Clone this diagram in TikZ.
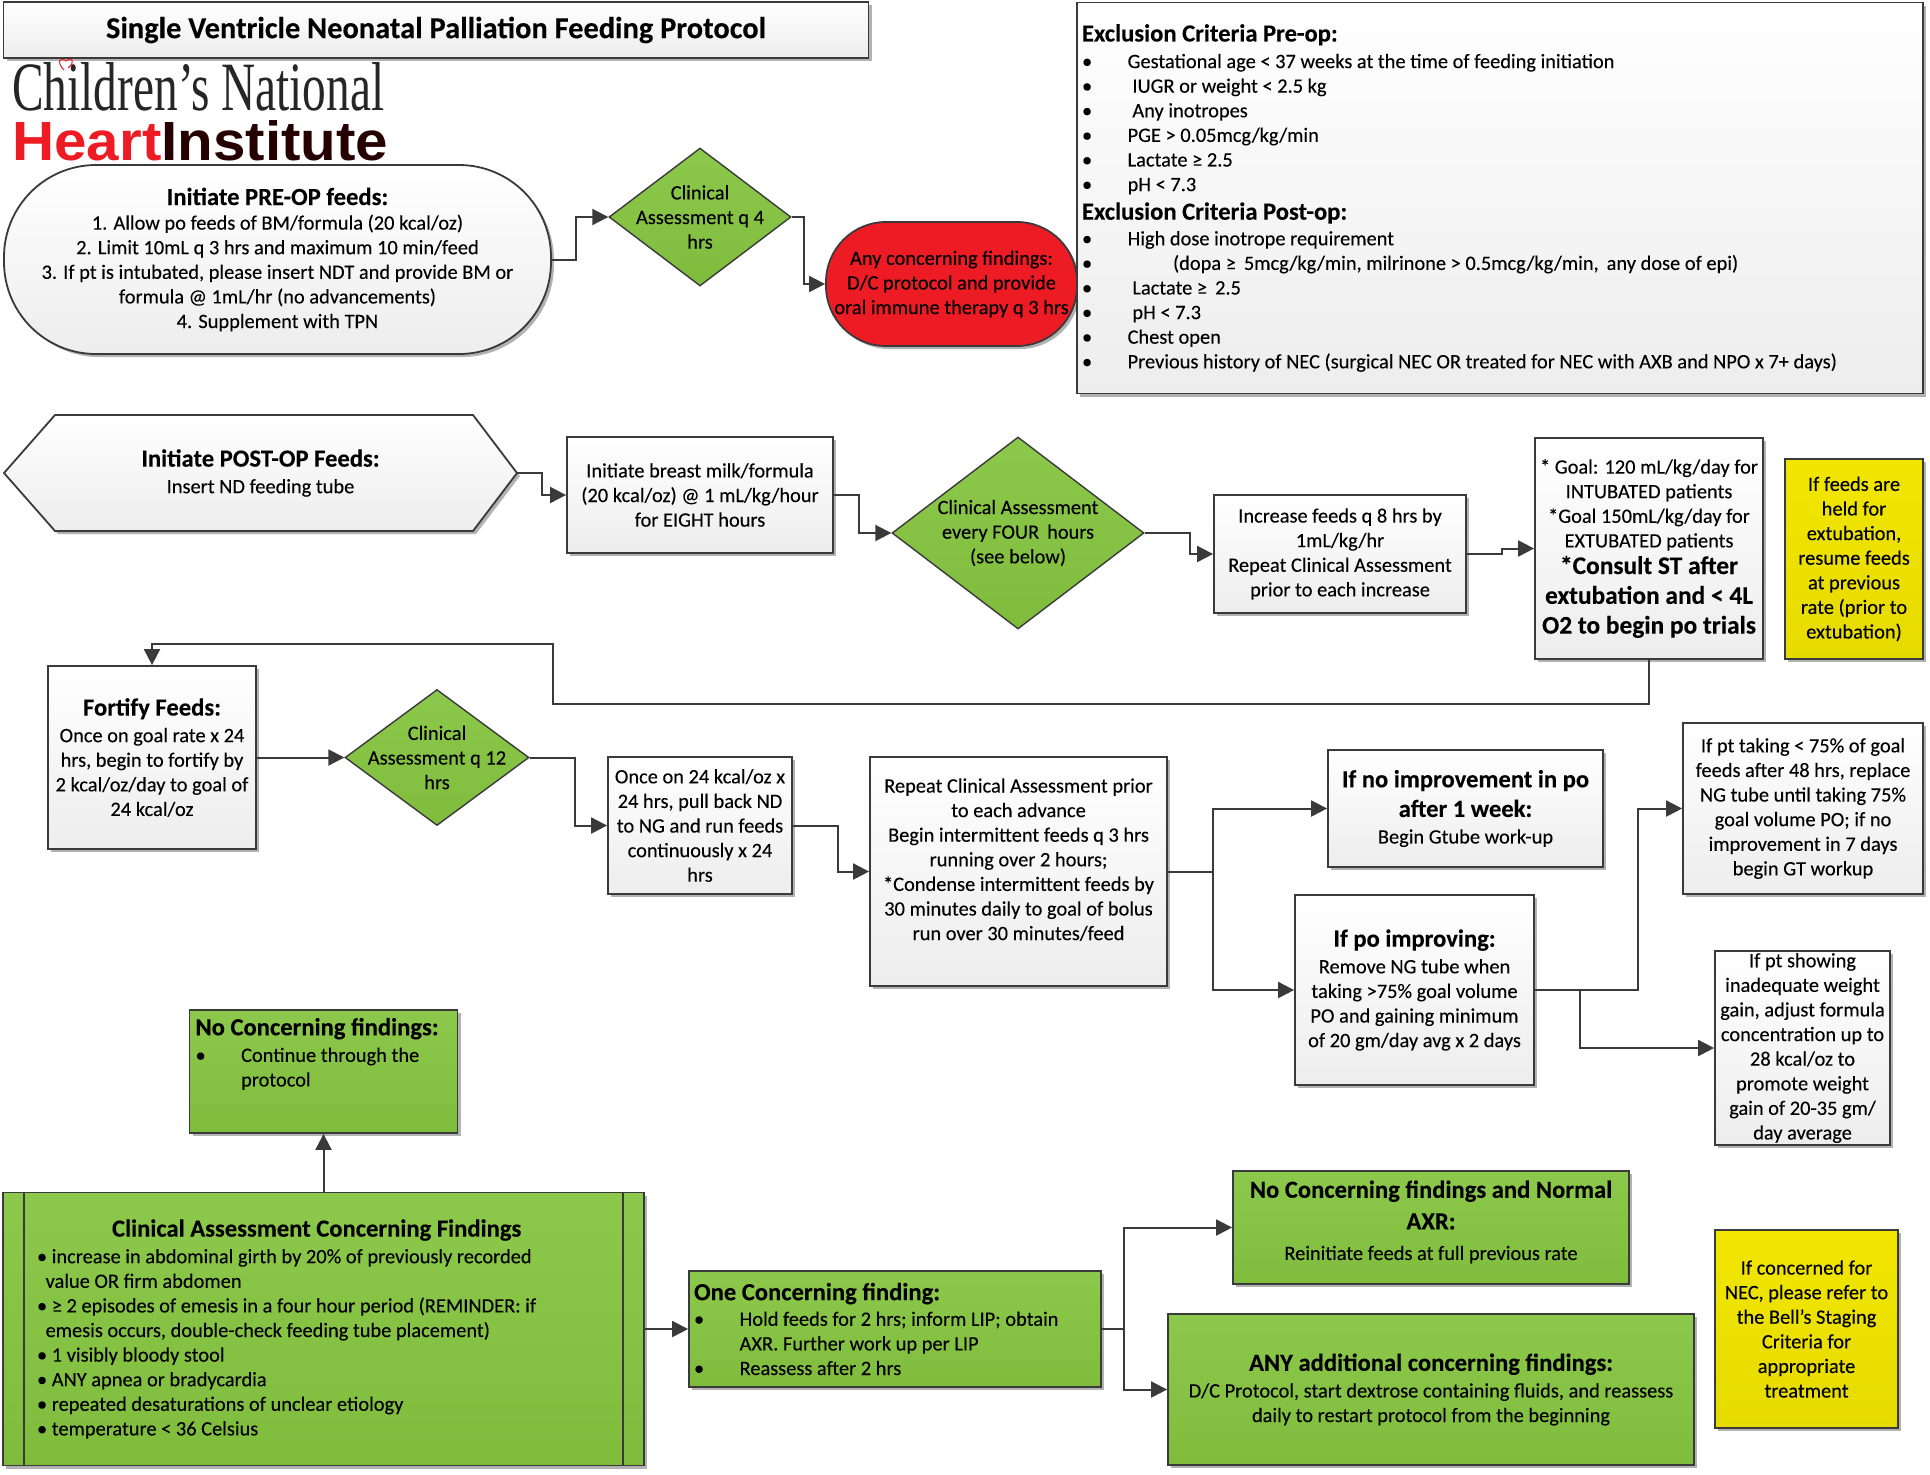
\documentclass[tikz,border=0pt]{standalone}
\usepackage{fontspec}
\setmainfont{Carlito}[FakeBold=0.15]
\newfontfamily\logoserif{Liberation Serif}
\newfontfamily\logosans{Liberation Sans}
\usetikzlibrary{arrows.meta,shapes.geometric,shadows}
\definecolor{linegray}{HTML}{3A3A3A}
\definecolor{boxgray}{HTML}{EDEDED}
\definecolor{greenlight}{HTML}{8CC84B}
\definecolor{greendark}{HTML}{80BC3C}
\definecolor{alertred}{HTML}{ED1C24}
\definecolor{noteyellow}{HTML}{F2E600}
\newcommand{\bodyfont}{\fontsize{10.2}{12.3}\selectfont}
\newcommand{\hdtext}[1]{{\fontsize{12.3}{12.3}\bfseries\selectfont #1}}
\newcommand{\bigtext}[1]{{\fontsize{12.7}{15}\bfseries\selectfont #1}}
\newcommand{\bulitem}[2][22.8pt]{\makebox[#1][l]{\textbullet}#2}
\tikzset{
	boxshadow/.style={drop shadow={shadow xshift=1.5pt,shadow yshift=-1.5pt,opacity=.3,fill=black}},
	flowbox/.style={draw=linegray,line width=.9pt,top color=white,bottom color=boxgray,boxshadow,align=center,inner sep=0pt,font=\bodyfont},
	greenbox/.style={flowbox,top color=greenlight,bottom color=greendark},
	notebox/.style={flowbox,top color=noteyellow,bottom color=noteyellow!95!black},
	decision/.style={diamond,draw=linegray,line width=.7pt,top color=greenlight,bottom color=greendark,inner sep=0pt},
	decisiontext/.style={align=center,inner sep=0pt,font=\bodyfont},
	arr/.style={draw=linegray,line width=1pt,-{Triangle[length=8pt,width=8pt]}}
}
\begin{document}
\begin{tikzpicture}[x=.5pt,y=-.5pt]
	\useasboundingbox (0,0) rectangle (1930,1474);
	% header and logo
	\node[flowbox,minimum width=432.5pt,minimum height=28pt] (title) at (436,30) {\fontsize{15.2}{16}\bfseries\selectfont Single Ventricle Neonatal Palliation Feeding Protocol};
	\node[inner sep=0pt,anchor=south west] (logotop) at (12,112) {\resizebox{186pt}{24pt}{\logoserif\fontsize{30}{30}\selectfont\color{black!85}Children’s National}};
	\node[inner sep=0pt,anchor=north west] (logobot) at (12,120) {\resizebox{188pt}{20pt}{\logosans\bfseries{\color{alertred}Heart}{\color{black!85!red}Institute}}};
	\draw[alertred,line width=.5pt] (64,70) .. controls (56,62) and (60,56) .. (66,61) .. controls (72,56) and (76,62) .. (68,68);

	% pre-op row
	\node[flowbox,minimum width=273.5pt,minimum height=94.5pt,rounded corners=46pt] (preop) at (277.5,259.5) {\hdtext{Initiate PRE-OP feeds:}\\
		1. Allow po feeds of BM/formula (20 kcal/oz)\\
		2. Limit 10mL q 3 hrs and maximum 10 min/feed\\
		3. If pt is intubated, please insert NDT and provide BM or\\
		formula @ 1mL/hr (no advancements)\\
		4. Supplement with TPN};
	\node[decision,minimum width=91pt,minimum height=69pt] (dia1) at (700,217) {};
	\node[decisiontext] (dia1txt) at (dia1) {Clinical\\Assessment q 4\\hrs};
	\node[flowbox,top color=alertred,bottom color=alertred,minimum width=125.5pt,minimum height=62pt,rounded corners=30pt] (concern) at (951.5,284) {Any concerning findings:\\D/C protocol and provide\\oral immune therapy q 3 hrs};
	\node[flowbox,align=flush left,text width=418pt,inner xsep=2.5pt,minimum height=195.5pt] (exclusion) at (1500,198) {\hdtext{Exclusion Criteria Pre-op:}\\[1pt]
		\bulitem{Gestational age < 37 weeks at the time of feeding initiation}\\
		\bulitem[25.2pt]{IUGR or weight < 2.5 kg}\\
		\bulitem[25.2pt]{Any inotropes}\\
		\bulitem{PGE > 0.05mcg/kg/min}\\
		\bulitem{Lactate ≥ 2.5}\\
		\bulitem{pH < 7.3}\\[2pt]
		\hdtext{Exclusion Criteria Post-op:}\\[.5pt]
		\bulitem{High dose inotrope requirement}\\
		\bulitem[45.5pt]{(dopa ≥ \,5mcg/kg/min, milrinone > 0.5mcg/kg/min, \,any dose of epi)}\\
		\bulitem[25.2pt]{Lactate ≥ \,2.5}\\
		\bulitem[25.2pt]{pH < 7.3}\\
		\bulitem{Chest open}\\
		\bulitem{Previous history of NEC (surgical NEC OR treated for NEC with AXB and NPO x 7+ days)}};

	% post-op row
	\path[draw=linegray,line width=.9pt,top color=white,bottom color=boxgray,boxshadow] (4,473) -- (55,415) -- (473,415) -- (517,473) -- (473,531) -- (55,531) -- cycle;
	\node[decisiontext,minimum width=256.5pt,minimum height=58pt] (postop) at (260.5,473) {\hdtext{Initiate POST-OP Feeds:}\\[1pt]Insert ND feeding tube};
	\node[flowbox,minimum width=133pt,minimum height=58pt] (start) at (700,495) {Initiate breast milk/formula\\(20 kcal/oz) @ 1 mL/kg/hour\\for EIGHT hours};
	\node[decision,minimum width=126pt,minimum height=96pt] (dia2) at (1018,533) {};
	\node[decisiontext] (dia2txt) at (dia2) {Clinical Assessment\\every FOUR \,hours\\(see below)};
	\node[flowbox,minimum width=126pt,minimum height=59pt] (increase) at (1340,554) {Increase feeds q 8 hrs by\\1mL/kg/hr\\Repeat Clinical Assessment\\prior to each increase};
	\node[flowbox,minimum width=114pt,minimum height=110.5pt] (goal) at (1649,548.5) {* Goal: 120 mL/kg/day for\\INTUBATED patients\\*Goal 150mL/kg/day for\\EXTUBATED patients\\[1pt]
		\bigtext{*Consult ST after}\\[2.6pt]\bigtext{extubation and < 4L}\\[2.6pt]\bigtext{O2 to begin po trials}};
	\node[notebox,minimum width=69pt,minimum height=100pt] (heldnote) at (1854,559) {If feeds are\\held for\\extubation,\\resume feeds\\at previous\\rate (prior to\\extubation)};

	% fortify row
	\node[flowbox,minimum width=104pt,minimum height=91.5pt] (fortify) at (152,757.5) {\hdtext{Fortify Feeds:}\\[1pt]Once on goal rate x 24\\hrs, begin to fortify by\\2 kcal/oz/day to goal of\\24 kcal/oz};
	\node[decision,minimum width=92pt,minimum height=68pt] (dia3) at (437,757.5) {};
	\node[decisiontext] (dia3txt) at (dia3) {Clinical\\Assessment q 12\\hrs};
	\node[flowbox,minimum width=92pt,minimum height=68.5pt] (pullback) at (700,825.5) {Once on 24 kcal/oz x\\24 hrs, pull back ND\\to NG and run feeds\\continuously x 24\\hrs};
	\node[flowbox,minimum width=148.5pt,minimum height=114.5pt] (advance) at (1018.5,871.5) {Repeat Clinical Assessment prior\\to each advance\\Begin intermittent feeds q 3 hrs\\running over 2 hours;\\*Condense intermittent feeds by\\30 minutes daily to goal of bolus\\run over 30 minutes/feed\\\mbox{}};
	\node[flowbox,minimum width=137.5pt,minimum height=58.5pt] (noimprove) at (1465.5,808.5) {\hdtext{If no improvement in po}\\[2.5pt]\hdtext{after 1 week:}\\[1pt]Begin Gtube work-up};
	\node[flowbox,minimum width=119.5pt,minimum height=95pt] (improve) at (1414.5,990) {\hdtext{If po improving:}\\[1pt]Remove NG tube when\\taking >75\% goal volume\\PO and gaining minimum\\of 20 gm/day avg x 2 days};
	\node[flowbox,minimum width=120pt,minimum height=85.5pt] (taking) at (1803,808.5) {If pt taking < 75\% of goal\\feeds after 48 hrs, replace\\NG tube until taking 75\%\\goal volume PO; if no\\improvement in 7 days\\begin GT workup};
	\node[flowbox,minimum width=87.5pt,minimum height=97pt] (showing) at (1802.5,1048) {If pt showing\\inadequate weight\\gain, adjust formula\\concentration up to\\28 kcal/oz to\\promote weight\\gain of 20-35 gm/\\day average};

	% clinical assessment block
	\node[greenbox,align=flush left,text width=128pt,inner xsep=3pt,minimum height=61.5pt] (noconcern) at (323.5,1071.5) {\hdtext{No Concerning findings:}\\[1pt]\bulitem{Continue through the}\\\hspace*{22.8pt}protocol\\[7pt]\mbox{}};
	\node[greenbox,align=flush left,text width=286.5pt,inner xsep=17pt,minimum height=136.5pt] (assess) at (323.5,1329) {\hspace*{37.5pt}\hdtext{Clinical Assessment Concerning Findings}\\[1pt]
		\textbullet\ increase in abdominal girth by 20\% of previously recorded\\
		\hspace*{4.3pt}value OR firm abdomen\\
		\textbullet\ ≥ 2 episodes of emesis in a four hour period (REMINDER: if\\
		\hspace*{4.3pt}emesis occurs, double-check feeding tube placement)\\
		\textbullet\ 1 visibly bloody stool\\
		\textbullet\ ANY apnea or bradycardia\\
		\textbullet\ repeated desaturations of unclear etiology\\
		\textbullet\ temperature < 36 Celsius};
	\draw[linegray,line width=.9pt] ([xshift=11pt]assess.north west) -- ([xshift=11pt]assess.south west);
	\draw[linegray,line width=.9pt] ([xshift=-11pt]assess.north east) -- ([xshift=-11pt]assess.south east);
	\node[greenbox,align=flush left,text width=201pt,inner xsep=2.5pt,minimum height=58pt] (oneconcern) at (895,1329) {\hdtext{One Concerning finding:}\\[.5pt]\bulitem{Hold feeds for 2 hrs; inform LIP; obtain}\\\hspace*{22.8pt}AXR. Further work up per LIP\\\bulitem{Reassess after 2 hrs}};
	\node[greenbox,minimum width=198pt,minimum height=56.5pt] (normal) at (1431,1227.5) {\hdtext{No Concerning findings and Normal}\\[3.5pt]\hdtext{AXR:}\\[3pt]Reinitiate feeds at full previous rate\\[-5pt]\mbox{}};
	\node[greenbox,minimum width=263pt,minimum height=75.5pt] (additional) at (1431,1389.5) {\hdtext{ANY additional concerning findings:}\\[1pt]D/C Protocol, start dextrose containing fluids, and reassess\\daily to restart protocol from the beginning};
	\node[notebox,minimum width=91.5pt,minimum height=99pt] (necnote) at (1806.5,1329) {If concerned for\\NEC, please refer to\\the Bell’s Staging\\Criteria for\\appropriate\\treatment};

	\coordinate (backA) at (553,704);
	\coordinate (backB) at (553,644);

	\draw[arr] (preop.east) -- ++(24,0) |- (dia1.west);
	\draw[arr] (dia1.east) -- ++(12,0) |- (concern.west);
	\draw[arr] (postop.east) -- ++(25,0) |- (start.west);
	\draw[arr] (start.east) -- ++(25,0) |- (dia2.west);
	\draw[arr] (dia2.east) -- ++(45,0) |- (increase.west);
	\draw[arr] (increase.east) -- ++(35,0) |- (goal.west);
	\draw[arr] (goal.south) |- (backA) -- (backB) -| (fortify.north);
	\draw[arr] (fortify.east) -- (dia3.west);
	\draw[arr] (dia3.east) -- ++(45,0) |- (pullback.west);
	\draw[arr] (pullback.east) -- ++(45,0) |- (advance.west);
	\draw[arr] (advance.east) -- ++(45,0) |- (noimprove.west);
	\draw[arr] (advance.east) -- ++(45,0) |- (improve.west);
	\draw[arr] (improve.east) -- ++(103,0) |- (taking.west);
	\draw[arr] (improve.east) -- ++(45,0) |- (showing.west);
	\draw[arr] (assess.north) -- (noconcern.south);
	\draw[arr] (assess.east) -- (oneconcern.west);
	\draw[arr] (oneconcern.east) -- ++(22,0) |- (normal.west);
	\draw[arr] (oneconcern.east) -- ++(22,0) |- (additional.west);
\end{tikzpicture}
\end{document}
